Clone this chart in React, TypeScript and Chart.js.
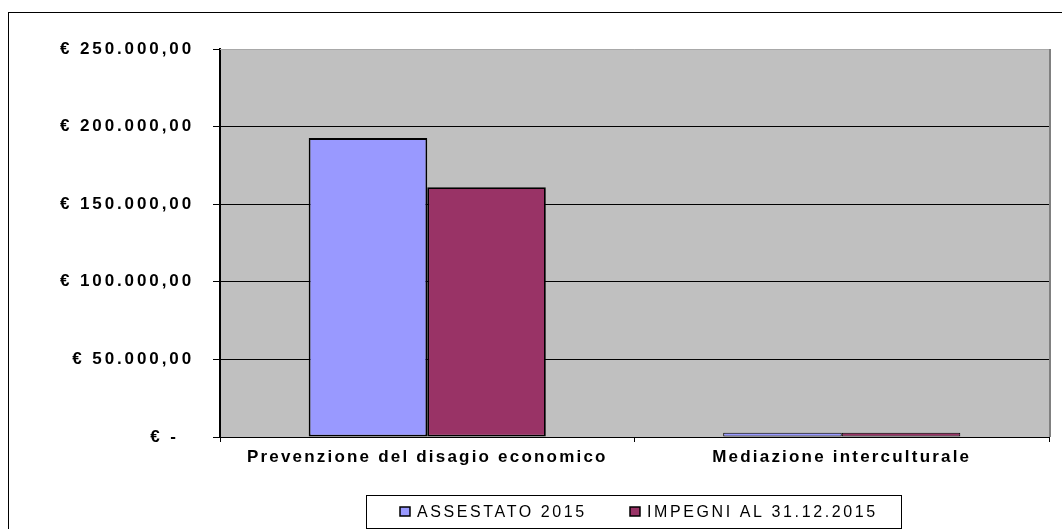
import React, { useEffect, useRef } from "react";
import { Chart, registerables } from "chart.js";

Chart.register(...registerables);

const categories = ["Prevenzione del disagio economico", "Mediazione interculturale"];
const seriesNames = ["ASSESTATO 2015", "IMPEGNI AL 31.12.2015"];
const assestato2015 = [192600, 2800];
const impegni2015 = [161000, 2750];
const seriesColors = ["#9999FF", "#993366"];
const yMin = 0;
const yMax = 250000;
const yStep = 50000;

const FONT = "'Liberation Sans', Arial, sans-serif";

// Euro accounting style: € 250.000,00 ; zero shown as "€ -"
const formatEuro = (v: number): string => {
  if (v === 0) return "€ -  ";
  const s = v.toFixed(2).replace(".", ",");
  return "€ " + s.replace(/\B(?=(\d{3})+(?!\d))/g, ".");
};

// thinner outline on very short bars so their fill stays visible
const barBorder = (c: any) => (typeof c.raw === "number" && c.raw < 10000 ? 1 : 1.8);

const withSpacing = (chart: any, scale: any, spacing: string) => {
  if (scale.__spaced) return;
  const orig = scale.drawLabels.bind(scale);
  scale.drawLabels = (area: any) => {
    const ctx = chart.ctx as any;
    ctx.save();
    ctx.letterSpacing = spacing;
    orig(area);
    ctx.restore();
  };
  scale.__spaced = true;
};

const framePlugin = {
  id: "frame",
  afterLayout(chart: any) {
    withSpacing(chart, chart.scales.y, "2.9px");
    withSpacing(chart, chart.scales.x, "2.2px");
  },
  beforeDraw(chart: any) {
    const { ctx, chartArea } = chart;
    ctx.save();
    // outer chart border
    ctx.strokeStyle = "#000";
    ctx.lineWidth = 1;
    ctx.strokeRect(8.5, 12.5, 2000, 2000);
    // plot area
    ctx.fillStyle = "#C0C0C0";
    ctx.fillRect(chartArea.left, chartArea.top, chartArea.right - chartArea.left, chartArea.bottom - chartArea.top);
    ctx.restore();
  },
  beforeDatasetsDraw(chart: any) {
    const { ctx, chartArea } = chart;
    ctx.save();
    ctx.strokeStyle = "#A8A8A8";
    ctx.lineWidth = 1;
    ctx.beginPath();
    ctx.moveTo(chartArea.left, chartArea.top + 0.5);
    ctx.lineTo(chartArea.right, chartArea.top + 0.5);
    ctx.stroke();
    ctx.strokeStyle = "#808080";
    ctx.lineWidth = 2;
    ctx.beginPath();
    ctx.moveTo(chartArea.right + 1, chartArea.top);
    ctx.lineTo(chartArea.right + 1, chartArea.bottom);
    ctx.stroke();
    ctx.restore();
  },
  afterDraw(chart: any) {
    const ctx = chart.ctx as any;
    ctx.save();
    // legend box
    ctx.strokeStyle = "#000";
    ctx.lineWidth = 1;
    ctx.strokeRect(366.5, 495.5, 535, 33);
    ctx.font = `16px ${FONT}`;
    ctx.letterSpacing = "2.6px";
    ctx.textBaseline = "alphabetic";
    ctx.textAlign = "left";
    const items = chart.data.datasets;
    const xs = [400, 630];
    items.forEach((ds: any, i: number) => {
      const x = xs[i];
      ctx.fillStyle = ds.backgroundColor;
      ctx.fillRect(x, 507, 10, 9);
      ctx.strokeStyle = "#000";
      ctx.lineWidth = 1.5;
      ctx.strokeRect(x, 507, 10, 9);
      ctx.fillStyle = "#000";
      ctx.fillText(ds.label, x + 17, 517);
    });
    ctx.restore();
  },
};

export default function App() {
  const ref = useRef<HTMLCanvasElement | null>(null);

  useEffect(() => {
    if (!ref.current) return;
    const chart = new Chart(ref.current, {
      type: "bar",
      data: {
        labels: categories,
        datasets: [
          {
            label: seriesNames[0],
            data: assestato2015,
            backgroundColor: seriesColors[0],
            borderColor: "#000",
            borderWidth: barBorder,
            borderSkipped: false,
            categoryPercentage: 0.572,
            barPercentage: 1,
          },
          {
            label: seriesNames[1],
            data: impegni2015,
            backgroundColor: seriesColors[1],
            borderColor: "#000",
            borderWidth: barBorder,
            borderSkipped: false,
            categoryPercentage: 0.572,
            barPercentage: 1,
          },
        ],
      },
      options: {
        responsive: false,
        animation: false,
        events: [],
        layout: { padding: { top: 49, right: 13, left: 0, bottom: 0 } },
        plugins: {
          legend: { display: false },
          tooltip: { enabled: false },
          title: { display: false },
        },
        scales: {
          x: {
            offset: true,
            grid: {
              display: true,
              offset: true,
              drawOnChartArea: false,
              drawTicks: true,
              tickLength: 5,
              color: "#000",
              lineWidth: 1,
            },
            border: { display: true, color: "#000", width: 1 },
            ticks: {
              color: "#000",
              padding: 5,
              font: { family: FONT, size: 17, weight: "bold" },
            },
            afterFit: (s: any) => {
              s.height = 92;
            },
          },
          y: {
            min: yMin,
            max: yMax,
            ticks: {
              stepSize: yStep,
              color: "#000",
              padding: 19,
              font: { family: FONT, size: 17, weight: "bold" },
              callback: (v: any) => formatEuro(Number(v)),
            },
            grid: {
              color: (c: any) => (c.tick && c.tick.value === yMax ? "rgba(0,0,0,0)" : "#000"),
              tickColor: "#000",
              tickLength: 7,
              lineWidth: 1,
            },
            border: { display: true, color: "#000", width: 2 },
            afterFit: (s: any) => {
              s.width = 220;
            },
          },
        },
      },
      plugins: [framePlugin],
    });
    chart.draw();
    return () => chart.destroy();
  }, []);

  return (
    <div style={{ position: "absolute", left: 0, top: 0, width: 1062, height: 529, background: "#fff" }}>
      <canvas ref={ref} width={1062} height={529} />
    </div>
  );
}
